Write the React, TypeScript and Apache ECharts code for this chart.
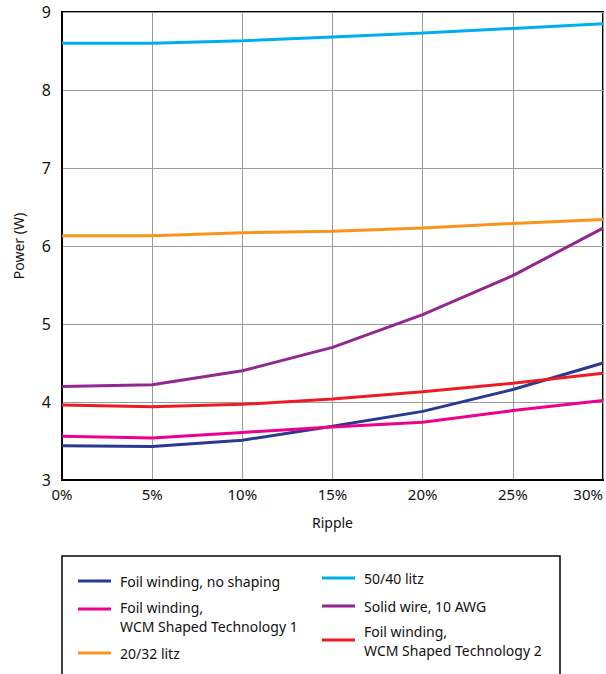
import React, { useEffect, useRef } from "react";
import * as echarts from "echarts";

const categories = ["0%", "5%", "10%", "15%", "20%", "25%", "30%"];
const yTicks = [3, 4, 5, 6, 7, 8, 9];

const foilNoShaping = [3.44, 3.43, 3.51, 3.69, 3.88, 4.16, 4.5];
const foilWcm1 = [3.56, 3.54, 3.61, 3.68, 3.74, 3.89, 4.02];
const litz2032 = [6.13, 6.13, 6.17, 6.19, 6.23, 6.29, 6.34];
const litz5040 = [8.6, 8.6, 8.63, 8.68, 8.73, 8.79, 8.85];
const solidWire = [4.2, 4.22, 4.4, 4.7, 5.12, 5.62, 6.23];
const foilWcm2 = [3.96, 3.94, 3.97, 4.04, 4.13, 4.24, 4.37];

const seriesDefs = [
  { name: "Foil winding, no shaping", data: foilNoShaping, color: "#2B3990" },
  { name: "Foil winding,\nWCM Shaped Technology 1", data: foilWcm1, color: "#EC008C" },
  { name: "20/32 litz", data: litz2032, color: "#F7941D" },
  { name: "50/40 litz", data: litz5040, color: "#00AEEF" },
  { name: "Solid wire, 10 AWG", data: solidWire, color: "#92278F" },
  { name: "Foil winding,\nWCM Shaped Technology 2", data: foilWcm2, color: "#ED1C24" },
];

const FONT = "'Noto Sans', sans-serif";

export default function App() {
  const ref = useRef<HTMLDivElement>(null);
  useEffect(() => {
    if (!ref.current) return;
    const chart = echarts.init(ref.current, undefined, { renderer: "svg" });

    const legendPos = [
      { x: 78, y: 581, ty: 581 },
      { x: 78, y: 609, ty: 617 },
      { x: 78, y: 653, ty: 653 },
      { x: 322, y: 578, ty: 578 },
      { x: 322, y: 606, ty: 606 },
      { x: 322, y: 640, ty: 641 },
    ];
    const legendGraphics: any[] = [
      {
        type: "rect",
        shape: { x: 62, y: 556, width: 498, height: 140 },
        style: { fill: "none", stroke: "#000", lineWidth: 1.5 },
      },
    ];
    seriesDefs.forEach((s, i) => {
      const p = legendPos[i];
      legendGraphics.push({
        type: "line",
        shape: { x1: p.x, y1: p.y, x2: p.x + 33, y2: p.y },
        style: { stroke: s.color, lineWidth: 3 },
      });
      legendGraphics.push({
        type: "text",
        x: p.x + 42,
        y: p.ty,
        style: {
          text: s.name,
          fill: "#111",
          font: `14px ${FONT}`,
          lineHeight: 19,
          verticalAlign: "middle",
          align: "left",
        },
      });
    });

    chart.setOption({
      animation: false,
      textStyle: { fontFamily: FONT },
      grid: {
        left: 62,
        right: 2,
        top: 12,
        bottom: 194,
        show: true,
        borderColor: "#000",
        borderWidth: 2,
      },
      xAxis: {
        type: "category",
        data: categories,
        boundaryGap: false,
        name: "Ripple",
        nameLocation: "middle",
        nameGap: 35,
        nameTextStyle: { fontSize: 14, color: "#111", fontFamily: FONT },
        axisLine: { lineStyle: { color: "#000", width: 2 } },
        axisTick: { show: false },
        axisLabel: {
          fontSize: 15,
          color: "#111",
          margin: 6,
          fontFamily: FONT,
          alignMaxLabel: "right",
        },
        splitLine: { show: true, lineStyle: { color: "#9a9a9a", width: 1 } },
      },
      yAxis: {
        type: "value",
        min: yTicks[0],
        max: yTicks[yTicks.length - 1],
        interval: 1,
        name: "Power (W)",
        nameLocation: "middle",
        nameGap: 37,
        nameTextStyle: { fontSize: 14, color: "#111", fontFamily: FONT },
        axisLine: { show: true, lineStyle: { color: "#000", width: 2 } },
        axisTick: { show: false },
        axisLabel: { fontSize: 16, color: "#111", margin: 11, fontFamily: FONT },
        splitLine: { show: true, lineStyle: { color: "#9a9a9a", width: 1 } },
      },
      series: seriesDefs.map((s) => ({
        name: s.name,
        type: "line",
        data: s.data,
        smooth: false,
        symbol: "none",
        lineStyle: { color: s.color, width: 3 },
        itemStyle: { color: s.color },
      })),
      graphic: legendGraphics,
    });
    return () => chart.dispose();
  }, []);
  return (
    <div
      ref={ref}
      style={{ position: "absolute", left: 0, top: 0, width: 606, height: 674 }}
    />
  );
}
